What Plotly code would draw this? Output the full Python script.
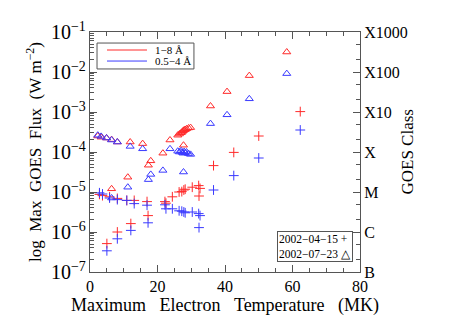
import plotly.graph_objects as go

# 2002-07-23 flare (triangles): temperature (MK), log10 peak flux in 1-8 A and 0.5-4 A
temp_jul = [2.3, 3.3, 4.9, 6.4, 8.1, 11.9, 15.6, 11.2, 17.3, 18.0, 6.4, 21.6, 23.7, 27.7,
            26.0, 26.5, 27.0, 27.3, 27.6, 27.9, 28.2, 28.6, 29.2, 29.8, 35.7, 40.6, 47.2, 58.3]
log_long_jul = [-3.60, -3.63, -3.65, -3.69, -3.75, -3.75, -3.79, -4.63, -4.33, -4.22, -4.92, -4.03, -3.70, -3.83,
                -3.58, -3.55, -3.52, -3.50, -3.47, -3.45, -3.44, -3.42, -3.40, -3.39, -2.85, -2.49, -2.09, -1.50]
log_short_jul = [-3.58, -3.61, -3.65, -3.70, -3.75, -3.86, -3.92, -4.88, -4.69, -4.56, -5.15, -4.46, -3.92, -4.50,
                 -3.98, -4.00, -3.97, -4.01, -4.03, -3.99, -4.02, -4.00, -4.04, -4.06, -3.29, -3.07, -2.67, -2.04]

# 2002-04-15 flare (crosses)
temp_apr = [2.8, 3.7, 5.8, 8.1, 10.9, 13.1, 16.9, 22.2, 22.5, 24.4, 26.4, 27.2, 27.8, 28.2, 30.3, 32.2, 32.6,
            32.3, 36.6, 42.6, 50.0, 62.3, 5.0, 8.1, 12.1, 17.2]
log_long_apr = [-5.06, -5.09, -5.12, -5.16, -5.21, -5.21, -5.24, -5.24, -5.28, -5.12, -5.00, -4.99, -4.95, -4.93,
                -4.88, -4.84, -4.91, -5.10, -4.34, -4.01, -3.60, -2.99, -6.29, -6.00, -5.79, -5.59]
log_short_apr = [-5.02, -5.05, -5.15, -5.19, -5.21, -5.29, -5.33, -5.32, -5.42, -5.42, -5.47, -5.48, -5.50, -5.52,
                 -5.50, -5.54, -5.59, -5.89, -4.95, -4.59, -4.15, -3.45, -6.47, -6.17, -5.96, -5.77]

class_vals = [1e-7, 1e-6, 1e-5, 1e-4, 1e-3, 1e-2, 1e-1]
class_text = ["B", "C", "M", "X", "X10", "X100", "X1000"]
band_names = ["1\u22128\u00a0\u00c5", "0.5\u22124\u00a0\u00c5"]

RED = "#ff2a2a"
BLUE = "#3a3aff"
FONT = "Liberation Serif"
AX = "#555555"
NB = "\u00a0"

def lin(v):
    return [10 ** a for a in v]

fig = go.Figure()
fig.add_trace(go.Scatter(x=temp_apr, y=lin(log_long_apr), mode="markers", showlegend=False,
                         marker=dict(symbol="cross-thin", size=7, line=dict(color=RED, width=1))))
fig.add_trace(go.Scatter(x=temp_apr, y=lin(log_short_apr), mode="markers", showlegend=False,
                         marker=dict(symbol="cross-thin", size=7, line=dict(color=BLUE, width=1))))
fig.add_trace(go.Scatter(x=temp_jul, y=lin(log_long_jul), mode="markers", showlegend=False,
                         marker=dict(symbol="triangle-up-open", size=7, color=RED, line=dict(color=RED, width=1))))
fig.add_trace(go.Scatter(x=temp_jul, y=lin(log_short_jul), mode="markers", showlegend=False,
                         marker=dict(symbol="triangle-up-open", size=7, color=BLUE, line=dict(color=BLUE, width=1))))
# right class axis carrier
fig.add_trace(go.Scatter(x=[None], y=[None], yaxis="y2", showlegend=False, hoverinfo="skip"))

# hand-drawn legend (top-left)
shapes = [
    dict(type="rect", xref="paper", yref="paper", x0=0.026, x1=0.385, y0=0.846, y1=0.954,
         line=dict(color=AX, width=1), fillcolor="white", layer="above"),
    dict(type="line", xref="paper", yref="paper", x0=0.063, x1=0.211, y0=0.925, y1=0.925,
         line=dict(color=RED, width=1), layer="above"),
    dict(type="line", xref="paper", yref="paper", x0=0.063, x1=0.211, y0=0.879, y1=0.879,
         line=dict(color=BLUE, width=1), layer="above"),
]
annotations = [
    dict(text=band_names[0], xref="paper", yref="paper", x=0.233, y=0.925, xanchor="left",
         yanchor="middle", showarrow=False, font=dict(size=11)),
    dict(text=band_names[1], xref="paper", yref="paper", x=0.233, y=0.879, xanchor="left",
         yanchor="middle", showarrow=False, font=dict(size=11)),
    dict(text="GOES" + NB + "Class", textangle=-90, xref="paper", yref="paper", x=1.215, y=0.5,
         showarrow=False, font=dict(size=17)),
    dict(text="2002\u221204\u221215" + NB + "+<br>2002\u221207\u221223" + NB + "\u25b3", xref="paper", yref="paper",
         x=0.974, y=0.042, xanchor="right", yanchor="bottom", align="left", showarrow=False,
         bordercolor=AX, borderwidth=1, borderpad=1, bgcolor="white", font=dict(size=11.5)),
]

fig.update_layout(
    width=450, height=321,
    margin=dict(l=90, r=90, t=32, b=49, autoexpand=False),
    paper_bgcolor="white", plot_bgcolor="white",
    font=dict(family=FONT, size=15, color="black"),
    showlegend=False,
    shapes=shapes,
    annotations=annotations,
    xaxis=dict(range=[0, 80], tickvals=[0, 20, 40, 60, 80], ticks="inside", ticklen=7,
               tickcolor=AX, showline=True, linecolor=AX, linewidth=1, mirror="ticks",
               showgrid=False, zeroline=False, automargin=False,
               minor=dict(dtick=5, ticks="inside", ticklen=4, tickcolor=AX),
               tickfont=dict(size=16),
               title=dict(text=("Maximum" + NB * 3 + "Electron" + NB * 3 + "Temperature" + NB * 3 + "(MK)"),
                          font=dict(size=18), standoff=2)),
    yaxis=dict(type="log", range=[-7, -1], dtick=1, exponentformat="power", ticks="inside",
               ticklen=7, tickcolor=AX, showline=True, linecolor=AX, linewidth=1, mirror=True,
               showgrid=False, zeroline=False, automargin=False,
               minor=dict(ticks="inside", ticklen=4, tickcolor=AX, showgrid=False),
               tickfont=dict(size=16),
               title=dict(text="log" + NB * 2 + "Max" + NB * 2 + "GOES" + NB * 2 + "Flux" + NB * 2 + "(W" + NB + "m<sup>\u22122</sup>)",
                          font=dict(size=17), standoff=4)),
    yaxis2=dict(type="log", range=[-7, -1], overlaying="y", side="right", anchor="x",
                tickvals=class_vals, ticktext=class_text, ticks="inside", ticklen=7, tickcolor=AX,
                showline=True, linecolor=AX, showgrid=False, zeroline=False, automargin=False,
                minor=dict(ticks="inside", ticklen=4, tickcolor=AX, showgrid=False),
                tickfont=dict(size=16)),
)

fig.write_html("out.html", config={"displayModeBar": False},
               post_script="document.body.style.margin='0';")
